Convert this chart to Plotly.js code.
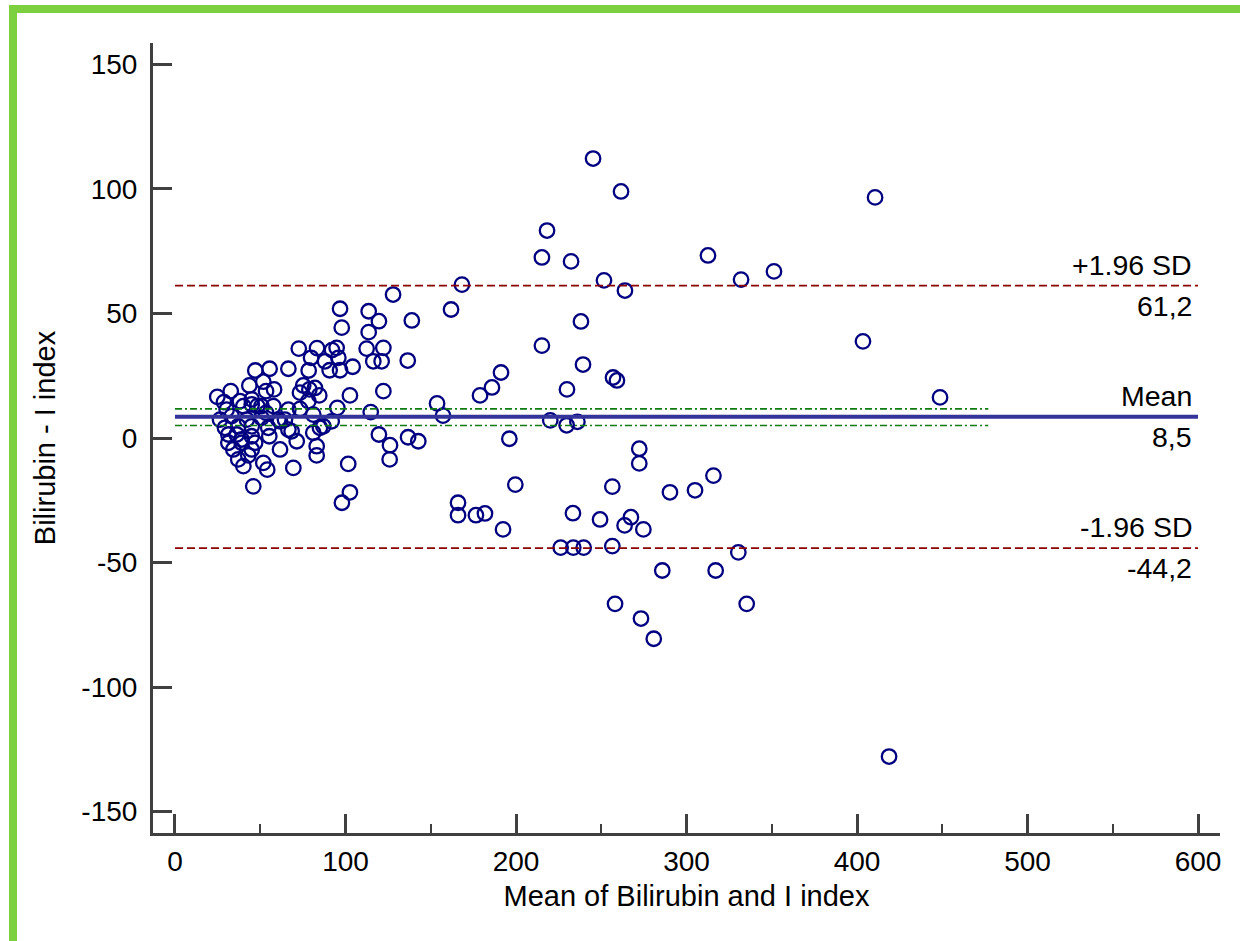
<!DOCTYPE html>
<html>
<head>
<meta charset="utf-8">
<script src="https://cdn.plot.ly/plotly-3.0.1.min.js"></script>
<style>
  html, body { margin: 0; padding: 0; background: #ffffff; }
  #wrap { position: relative; width: 1240px; height: 941px; overflow: hidden; background: #ffffff; }
  #chart { position: absolute; left: 0; top: 0; width: 1240px; height: 941px; }
  .frameLeft { position: absolute; left: 9px; top: 5px; width: 8px; height: 936px; background: #7ccf3e; z-index: 5; }
  .frameTop { position: absolute; left: 9px; top: 5px; width: 1231px; height: 8px; background: #7ccf3e; z-index: 5; }
</style>
</head>
<body>
<div id="wrap">
  <div id="chart"></div>
  <div class="frameLeft"></div>
  <div class="frameTop"></div>
</div>
<script>
// ---- Data ----
// Low-range cluster: mean of the two methods, and their difference
const clusterMean = [
  24.8,28.7,26.4,29.3,30.3,31.3,31.3,32.7,33.2,34.2,
  36.2,37.1,37.1,38.1,39.1,39.1,40.1,40.1,42.1,43.6,
  43.0,45.0,45.0,45.0,45.0,45.0,45.9,47.0,47.1,48.3,
  50.7,50.7,51.8,51.8,53.4,53.4,54.1,54.7,55.3,55.5,
  57.7,58.1,60.6,61.6,61.6,64.5,66.5,66.5,66.5,68.4,
  69.4,71.4,72.6,73.3,73.3,75.2,78.4,78.8,78.2,79.8,
  81.1,81.1,82.1,83.1,83.1,83.3,84.6,85.0,87.0,88.0,
  90.7,91.9,92.1,94.8,95.8,95.2,96.8,96.8,97.8,97.9,
  101.6,102.6,102.6,104.2,112.4,113.6,113.6,114.8,116.3,119.6,
  119.6,121.2,122.2,122.2,126.1,125.9,127.9,136.5,136.7,138.9,
  142.7
];
const clusterDiff = [
  16.5,14.4,7.4,4.1,11.4,1.4,-1.9,18.8,8.8,-4.6,
  1.4,4.7,-8.6,14.8,-0.6,-1.9,12.8,-11.3,7.4,21.1,
  -7.0,15.5,13.5,4.7,0.7,-4.6,-19.4,-1.9,27.1,12.8,
  8.1,12.8,22.6,-10.0,18.8,10.1,-12.7,4.1,0.7,27.8,
  12.8,19.5,7.4,-4.6,6.7,7.4,27.8,11.4,3.4,2.7,
  -12.0,-1.3,35.9,11.7,18.2,21.1,27.1,19.5,14.8,32.2,
  9.4,2.1,20.1,-3.3,-7.0,36.1,17.1,4.1,4.7,30.8,
  27.2,6.7,35.3,36.2,32.2,12.1,27.2,51.9,44.3,-26.0,
  -10.4,-21.8,17.1,28.6,35.9,50.9,42.5,10.4,30.8,1.4,
  46.9,30.8,36.2,18.8,-2.9,-8.6,57.6,31.1,0.3,47.2,
  -1.3
];
// Higher-range points
const spreadMean = [
  245.2,261.6,410.6,218.2,215.2,232.3,312.6,332.0,351.3,251.6,
  263.9,168.3,161.9,238.1,215.2,403.5,239.3,256.9,259.2,229.9,
  448.7,191.2,185.9,178.9,153.7,157.2,220.1,229.7,236.0,196.1,
  272.3,272.3,199.6,256.5,290.3,305.0,315.8,166.0,166.0,176.5,
  181.8,192.4,233.4,249.3,263.7,267.4,274.7,226.2,233.6,239.7,
  256.5,330.4,285.8,317.1,258.1,335.3,273.3,280.8,418.8
];
const spreadDiff = [
  112.2,99.0,96.6,83.3,72.5,70.9,73.3,63.6,66.9,63.3,
  59.2,61.6,51.6,46.8,37.1,38.8,29.5,24.3,23.1,19.5,
  16.3,26.3,20.3,17.1,13.9,9.0,7.1,5.1,6.5,-0.3,
  -4.3,-10.2,-18.7,-19.5,-21.8,-21.0,-15.1,-26.0,-31.0,-31.0,
  -30.3,-36.7,-30.2,-32.7,-35.1,-31.8,-36.7,-44.0,-44.0,-44.0,
  -43.4,-45.9,-53.2,-53.2,-66.6,-66.6,-72.5,-80.6,-127.9
];

// Summary statistics
const meanDifference = 8.5;
const upperLimit = 61.2;
const lowerLimit = -44.2;
const meanCILower = 5.0;
const meanCIUpper = 11.7;
const lineSpan = [0, 600];
const ciSpan = [0, 477];

// Text
const xTickVals = [0, 100, 200, 300, 400, 500, 600];
const xTickText = ["0", "100", "200", "300", "400", "500", "600"];
const xMinorTicks = [50, 150, 250, 350, 450, 550];
const yTickVals = [-150, -100, -50, 0, 50, 100, 150];
const yTickText = ["-150", "-100", "-50", "0", "50", "100", "150"];
const xTitle = "Mean of Bilirubin and I index";
const yTitle = "Bilirubin - I index";
const upperLabel = "+1.96 SD", upperValueText = "61,2";
const meanLabel = "Mean", meanValueText = "8,5";
const lowerLabel = "-1.96 SD", lowerValueText = "-44,2";

// ---- Chart ----
const FONT = "Liberation Sans, Arial, Helvetica, sans-serif";
const axisColor = "#404040";
const markerStyle = { symbol: "circle-open", size: 14.5, color: "#000080", line: { width: 2.3, color: "#000080" } };

const traces = [
  { x: clusterMean, y: clusterDiff, type: "scatter", mode: "markers", marker: markerStyle, hoverinfo: "x+y", showlegend: false },
  { x: spreadMean, y: spreadDiff, type: "scatter", mode: "markers", marker: markerStyle, hoverinfo: "x+y", showlegend: false },
  { x: ciSpan, y: [meanCIUpper, meanCIUpper], type: "scatter", mode: "lines", line: { color: "#127a12", width: 1.6, dash: "7px,3px,2px,3px" }, showlegend: false, hoverinfo: "skip" },
  { x: ciSpan, y: [meanCILower, meanCILower], type: "scatter", mode: "lines", line: { color: "#127a12", width: 1.6, dash: "7px,3px,2px,3px" }, showlegend: false, hoverinfo: "skip" },
  { x: lineSpan, y: [upperLimit, upperLimit], type: "scatter", mode: "lines", line: { color: "#8b0000", width: 1.8, dash: "8px,4px" }, showlegend: false, hoverinfo: "skip" },
  { x: lineSpan, y: [lowerLimit, lowerLimit], type: "scatter", mode: "lines", line: { color: "#8b0000", width: 1.8, dash: "8px,4px" }, showlegend: false, hoverinfo: "skip" },
  { x: lineSpan, y: [meanDifference, meanDifference], type: "scatter", mode: "lines", line: { color: "#333399", width: 4 }, showlegend: false, hoverinfo: "skip" }
];

function lab(text, yv, above) {
  return {
    x: lineSpan[1], y: yv, xref: "x", yref: "y", text: text, showarrow: false,
    xanchor: "right", yanchor: above ? "bottom" : "top",
    xshift: -4, yshift: above ? 3 : -2,
    font: { family: FONT, size: 28.5, color: "#000000" }
  };
}

const layout = {
  width: 1240, height: 941,
  margin: { l: 153, r: 20, t: 43, b: 108, pad: 0 },
  paper_bgcolor: "#ffffff", plot_bgcolor: "#ffffff",
  font: { family: FONT, size: 28, color: "#000000" },
  showlegend: false,
  xaxis: {
    range: [-12.9, 612.9], showgrid: false, zeroline: false,
    showline: true, linecolor: axisColor, linewidth: 3,
    ticks: "inside", ticklen: 19, tickwidth: 3, tickcolor: axisColor,
    tickmode: "array", tickvals: xTickVals, ticktext: xTickText,
    tickfont: { family: FONT, size: 28, color: "#000000" },
    ticklabelstandoff: 1,
    minor: { tickmode: "array", tickvals: xMinorTicks, ticks: "inside", ticklen: 9, tickwidth: 2, tickcolor: axisColor, showgrid: false },
    title: { text: xTitle, font: { family: FONT, size: 29, color: "#000000" }, standoff: 11 }
  },
  yaxis: {
    range: [-158.6, 158.6], showgrid: false, zeroline: false,
    showline: true, linecolor: axisColor, linewidth: 3,
    ticks: "inside", ticklen: 19, tickwidth: 3, tickcolor: axisColor,
    tickmode: "array", tickvals: yTickVals, ticktext: yTickText,
    tickfont: { family: FONT, size: 28, color: "#000000" },
    ticklabelstandoff: 7,
    title: { text: yTitle, font: { family: FONT, size: 29, color: "#000000" }, standoff: 18 }
  },
  annotations: [
    lab(upperLabel, upperLimit, true), lab(upperValueText, upperLimit, false),
    lab(meanLabel, meanDifference, true), lab(meanValueText, meanDifference, false),
    lab(lowerLabel, lowerLimit, true), lab(lowerValueText, lowerLimit, false)
  ]
};

Plotly.newPlot("chart", traces, layout, { displayModeBar: false, staticPlot: true });
</script>
</body>
</html>
